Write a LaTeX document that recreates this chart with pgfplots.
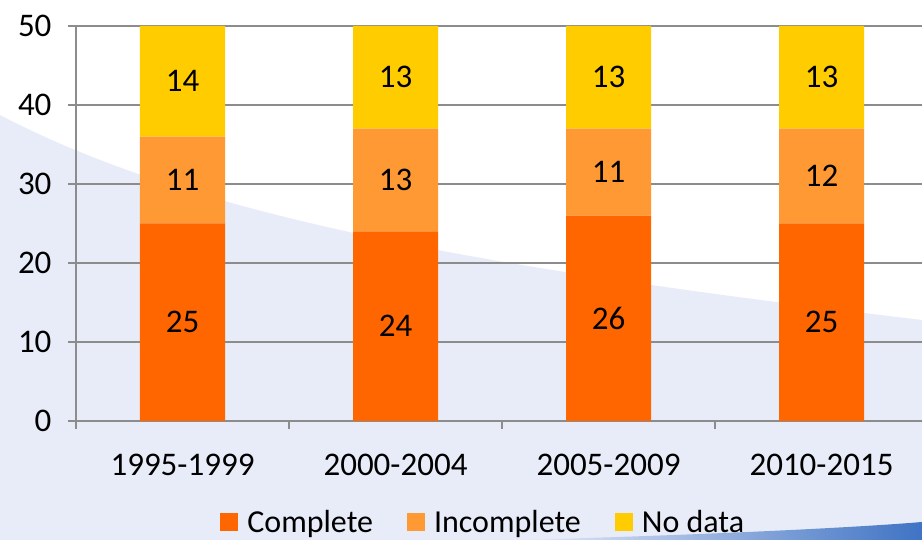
\documentclass[border=0pt]{standalone}
\usepackage{pgfplots}
\pgfplotsset{compat=1.18}
\usepackage{fontspec}
\setmainfont{Carlito}
\definecolor{cComplete}{HTML}{FF6600}
\definecolor{cIncomplete}{HTML}{FF9933}
\definecolor{cNodata}{HTML}{FFCC00}
\definecolor{bgblue}{HTML}{E8ECF8}
\definecolor{axgray}{HTML}{8C8C8C}
\definecolor{bandblue}{HTML}{3F73C4}
\pgfplotstableread{
x complete incomplete nodata
0 25 11 14
1 24 13 13
2 26 11 13
3 25 12 13
}\datatable
\begin{document}
\begin{tikzpicture}[x=1pt,y=1pt]
\useasboundingbox (0,0) rectangle (922,540);
\clip (0,0) rectangle (922,540);
\fill[white] (0,0) rectangle (922,540);
\fill[bgblue] (0,425) .. controls (200,320) and (500,270) .. (922,220) -- (922,0) -- (0,0) -- cycle;
\shade[left color=bgblue, right color=bandblue] (520,0) .. controls (700,5) and (850,12) .. (922,18) -- (922,0) -- cycle;
\begin{axis}[
  at={(76pt,119pt)}, anchor=south west,
  scale only axis, width=852pt, height=395pt,
  xmin=-0.5, xmax=3.5, ymin=0, ymax=50,
  ybar stacked, bar width=85pt,
  axis x line*=bottom, axis y line*=left,
  axis line style={axgray, line width=1.5pt},
  ymajorgrids, grid style={axgray, line width=1.5pt},
  ytick={0,10,...,50},
  xtick={0,1,2,3}, xticklabels={1995-1999,2000-2004,2005-2009,2010-2015},
  minor xtick={-0.5,0.5,1.5,2.5},
  major x tick style={draw=none},
  tick align=outside,
  major tick length=8pt, minor tick length=8pt,
  every tick/.style={axgray, line width=1.5pt},
  /pgf/number format/assume math mode=true,
  ticklabel style={font=\fontsize{33}{38}\selectfont, black},
  xticklabel style={yshift=-22pt},
  yticklabel style={xshift=-13pt},
  nodes near coords={\pgfmathprintnumber{\rawy}},
  visualization depends on=rawy \as \rawy,
  every node near coord/.append style={anchor=center, black, font=\fontsize{33}{38}\selectfont},
  legend style={at={(0.478,-0.255)}, anchor=center, draw=none, fill=none, legend columns=3,
    font=\fontsize{32}{37}\selectfont, /tikz/every even column/.append style={column sep=32pt}},
]
\addplot[fill=cComplete, draw=none, legend image code/.code={\fill[cComplete] (0pt,-9pt) rectangle (18pt,9pt); \path (25pt,0pt);}] table[x=x, y=complete] {\datatable};
\addlegendentry{Complete}
\addplot[fill=cIncomplete, draw=none, legend image code/.code={\fill[cIncomplete] (0pt,-9pt) rectangle (18pt,9pt); \path (25pt,0pt);}] table[x=x, y=incomplete] {\datatable};
\addlegendentry{Incomplete}
\addplot[fill=cNodata, draw=none, legend image code/.code={\fill[cNodata] (0pt,-9pt) rectangle (18pt,9pt); \path (25pt,0pt);}] table[x=x, y=nodata] {\datatable};
\addlegendentry{No data}
\end{axis}
\end{tikzpicture}
\end{document}
